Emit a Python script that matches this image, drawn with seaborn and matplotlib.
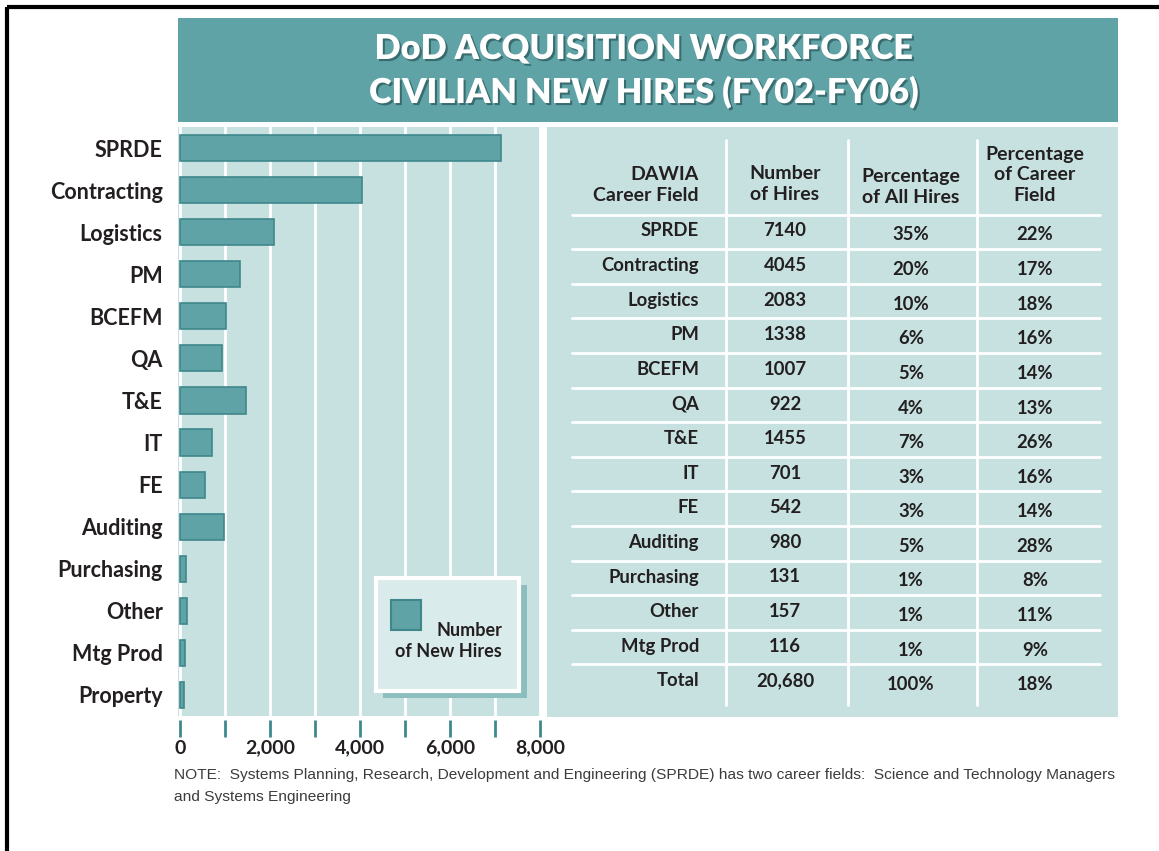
import matplotlib
matplotlib.use("Agg")
import matplotlib.pyplot as plt
import matplotlib.patheffects as pe
from matplotlib.patches import Rectangle
from matplotlib.ticker import MultipleLocator, FuncFormatter
import pandas as pd
import seaborn as sns

# Data
fields = ["SPRDE", "Contracting", "Logistics", "PM", "BCEFM", "QA", "T&E",
          "IT", "FE", "Auditing", "Purchasing", "Other", "Mtg Prod", "Property"]
hires = [7140, 4045, 2083, 1338, 1007, 922, 1455, 701, 542, 980, 131, 157, 116, 85]

table_fields = ["SPRDE", "Contracting", "Logistics", "PM", "BCEFM", "QA", "T&E",
                "IT", "FE", "Auditing", "Purchasing", "Other", "Mtg Prod", "Total"]
table_hires = ["7140", "4045", "2083", "1338", "1007", "922", "1455",
               "701", "542", "980", "131", "157", "116", "20,680"]
pct_all = ["35%", "20%", "10%", "6%", "5%", "4%", "7%",
           "3%", "3%", "5%", "1%", "1%", "1%", "100%"]
pct_field = ["22%", "17%", "18%", "16%", "14%", "13%", "26%",
             "16%", "14%", "28%", "8%", "11%", "9%", "18%"]

title = "DoD ACQUISITION WORKFORCE\nCIVILIAN NEW HIRES (FY02-FY06)"
note = ("NOTE:  Systems Planning, Research, Development and Engineering (SPRDE) has two career fields:  "
        "Science and Technology Managers\nand Systems Engineering")

# Colours
TEAL = "#5fa3a7"
EDGE = "#3f878b"
PANEL = "#c6e1e0"
LEGBG = "#d9ebea"
SHADOW = "#8cbebe"
TICK = "#3f8a8e"
DARK = "#231f20"

W, H = 1159, 851

sns.set_theme(style="white")
plt.rcParams["font.family"] = ["Lato", "DejaVu Sans"]

fig = plt.figure(figsize=(W / 100, H / 100), dpi=100)
fig.patch.set_facecolor("white")


def px_axes(x0, y0, x1, y1):
    return [x0 / W, 1 - y1 / H, (x1 - x0) / W, (y1 - y0) / H]


# Bar chart
ax = fig.add_axes(px_axes(178, 127, 540, 716), zorder=1)
ax.set_facecolor(PANEL)
df = pd.DataFrame({"field": fields, "hires": hires})
sns.barplot(data=df, x="hires", y="field", orient="h", color=TEAL, saturation=1,
            edgecolor=EDGE, linewidth=1.2, width=0.62, ax=ax)
ax.set_xlim(-50, 8000)
ax.xaxis.set_major_locator(MultipleLocator(1000))
ax.xaxis.set_major_formatter(FuncFormatter(lambda v, _: f"{int(v):,}" if v % 2000 == 0 else ""))
ax.grid(axis="x", color="white", linewidth=2)
ax.set_axisbelow(True)
ax.set_xlabel("")
ax.set_ylabel("")
for s in ax.spines.values():
    s.set_visible(False)
ax.spines["bottom"].set_position(("outward", 3))
ax.tick_params(axis="x", length=12, width=2, color=TICK, direction="out",
               labelsize=14, labelcolor=DARK, pad=2, bottom=True)
ax.tick_params(axis="y", length=0, labelsize=15.5, labelcolor=DARK, pad=11)
fig.canvas.draw()
ax.get_xgridlines()[0].set_visible(False)
for t in ax.get_xticklabels() + ax.get_yticklabels():
    t.set_fontweight("bold")

# Overlay for banner, table, legend, note
ov = fig.add_axes([0, 0, 1, 1], zorder=2)
ov.set_xlim(0, W)
ov.set_ylim(H, 0)
ov.axis("off")
ov.patch.set_alpha(0)

# frame lines (top, left)
ov.plot([7, W], [7, 7], color="black", lw=3, solid_capstyle="butt")
ov.plot([7, 7], [7, H], color="black", lw=3, solid_capstyle="butt")

# title banner
ov.add_patch(Rectangle((178, 18), 940, 104, facecolor=TEAL, edgecolor="none"))
ov.text(643, 71, title, ha="center", va="center", color="white", fontsize=24.7,
        fontweight="heavy", linespacing=1.42,
        path_effects=[pe.withSimplePatchShadow(offset=(1.5, -1.5), shadow_rgbFace="#2a5557", alpha=0.7)])

# table panel
ov.add_patch(Rectangle((547, 127), 571, 590, facecolor=PANEL, edgecolor="none"))
hdr = dict(fontsize=14, fontweight="bold", color=DARK, linespacing=1.25, va="center")
ov.text(699, 185, "DAWIA\nCareer Field", ha="right", multialignment="right", **hdr)
ov.text(785, 184, "Number\nof Hires", ha="center", multialignment="center", **hdr)
ov.text(911, 187, "Percentage\nof All Hires", ha="center", multialignment="center", **hdr)
ov.text(1035, 175, "Percentage\nof Career\nField", ha="center", multialignment="center", **hdr)

row0, step = 231, 34.6
for i in range(len(table_fields)):
    y = row0 + step * i
    cell = dict(fontsize=13.3, fontweight="bold", color=DARK, va="center")
    ov.text(699, y, table_fields[i], ha="right", **cell)
    ov.text(785, y, table_hires[i], ha="center", **cell)
    ov.text(911, y + 4, pct_all[i], ha="center", **cell)
    ov.text(1035, y + 4, pct_field[i], ha="center", **cell)
    # separator line above each row
    ov.plot([572, 1100], [y - 16.5, y - 16.5], color="white", lw=2)
for xv in [726, 848, 977]:
    ov.plot([xv, xv], [140, 705], color="white", lw=2)

# legend box with drop shadow
ov.add_patch(Rectangle((383, 585), 144, 113, facecolor=SHADOW, edgecolor="none"))
ov.add_patch(Rectangle((376, 578), 143, 113, facecolor=LEGBG, edgecolor="white", lw=3))
ov.add_patch(Rectangle((391, 600), 30, 30, facecolor=TEAL, edgecolor=EDGE, lw=1.5))
ov.text(502, 641, "Number\nof New Hires", ha="right", va="center", multialignment="right",
        fontsize=13, fontweight="bold", color=DARK, linespacing=1.25)

# footnote
ov.text(174, 786, note, ha="left", va="center", fontsize=11.15, color="#3c3c3c",
        family=["Liberation Sans", "DejaVu Sans"], linespacing=1.75)

fig.savefig("out.png", dpi=100)
